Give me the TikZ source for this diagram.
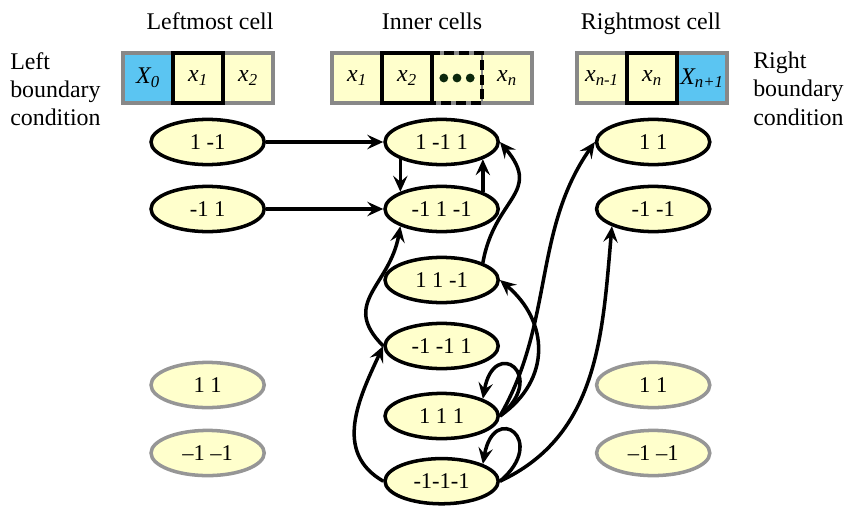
\documentclass[tikz,border=0pt]{standalone}
\usepackage{fontspec}
\setmainfont{Liberation Serif}
\usetikzlibrary{arrows.meta, positioning, shapes.geometric}

\definecolor{cellyellow}{RGB}{255,255,204}
\definecolor{cellblue}{RGB}{91,197,242}
\definecolor{cellgray}{RGB}{136,136,136}
\definecolor{ellgray}{RGB}{150,150,150}
\definecolor{dotgreen}{RGB}{12,40,12}

\begin{document}
\begin{tikzpicture}
    \tikzstyle{labeltext}=[font=\fontsize{17}{20}\selectfont, inner sep=0pt]
    \tikzstyle{cellbox}=[draw=cellgray, line width=1.5pt, fill=cellyellow, minimum width=1.25cm, minimum height=1.25cm, outer sep=0pt, inner sep=0pt, rectangle, font=\fontsize{17}{20}\selectfont\itshape]
    \tikzstyle{bluebox}=[cellbox, fill=cellblue]
    \tikzstyle{statebox}=[draw, ellipse, line width=2.5pt, fill=cellyellow, minimum width=2.83cm, minimum height=1.13cm, inner sep=0pt, font=\fontsize{16}{19}\selectfont]
    \tikzstyle{greystatebox}=[statebox, draw=ellgray]
    \tikzstyle{conn}=[-{Stealth[length=0.4cm, width=0.36cm, inset=0.15cm]}, line width=2.5pt]

    \useasboundingbox (0,0) rectangle (21.2,-12.65);

    % Titles and boundary conditions
    \node[labeltext, anchor=base] (t_left) at (5.25,-0.75) {Leftmost cell};
    \node[labeltext, anchor=base] (t_inner) at (10.8,-0.75) {Inner cells};
    \node[labeltext, anchor=base] (t_right) at (16.275,-0.75) {Rightmost cell};
    \node[labeltext, anchor=north west, align=left] (t_lbc) at (0.25,-1.3) {Left\\boundary\\condition};
    \node[labeltext, anchor=north west, align=left] (t_rbc) at (18.825,-1.3) {Right\\boundary\\condition};

    % Leftmost cell
    \node[bluebox] (l_cell1) at (3.7,-1.95) {X\textsubscript{0}};
    \node[cellbox, right=0cm of l_cell1] (l_cell2) {x\textsubscript{1}};
    \node[cellbox, right=0cm of l_cell2] (l_cell3) {x\textsubscript{2}};
    \draw[cellgray, line width=2.5pt] (l_cell1.north west) rectangle (l_cell3.south east);
    \draw[line width=2.5pt] (l_cell2.north west) rectangle (l_cell2.south east);

    % Inner cells
    \node[cellbox] (i_cell1) at (8.925,-1.95) {x\textsubscript{1}};
    \node[cellbox, right=0cm of i_cell1] (i_cell2) {x\textsubscript{2}};
    \node[cellbox, right=0cm of i_cell2] (i_cell3) {};
    \node[cellbox, right=0cm of i_cell3] (i_cell4) {x\textsubscript{n}};
    \draw[cellgray, line width=2.5pt] (i_cell1.north west) rectangle (i_cell4.south east);
    \draw[line width=2.5pt, dash pattern=on 0.25cm off 0.12cm] (i_cell3.north west) rectangle (i_cell3.south east);
    \draw[line width=2.5pt] (i_cell2.north west) rectangle (i_cell2.south east);
    \foreach \dx in {-0.33, 0, 0.33}
        \fill[dotgreen] ([xshift=\dx cm]i_cell3.center) circle (0.11);

    % Rightmost cell
    \node[cellbox] (r_cell1) at (15.05,-1.95) {x\textsubscript{n-1}};
    \node[cellbox, right=0cm of r_cell1] (r_cell2) {x\textsubscript{n}};
    \node[bluebox, right=0cm of r_cell2] (r_cell3) {X\textsubscript{n+1}};
    \draw[cellgray, line width=2.5pt] (r_cell1.north west) rectangle (r_cell3.south east);
    \draw[line width=2.5pt] (r_cell2.north west) rectangle (r_cell2.south east);

    % Leftmost states
    \node[statebox] (l_state1) at (5.19,-3.55) {1 -1};
    \node[statebox] (l_state2) at (5.19,-5.225) {-1 1};
    \node[greystatebox] (l_state3) at (5.19,-9.625) {1 1};
    \node[greystatebox] (l_state4) at (5.19,-11.325) {–1 –1};

    % Inner states
    \node[statebox] (m_state1) at (11.04,-3.55) {1 -1 1};
    \node[statebox] (m_state2) at (11.04,-5.225) {-1 1 -1};
    \node[statebox] (m_state3) at (11.04,-7.0) {1 1 -1};
    \node[statebox] (m_state4) at (11.04,-8.65) {-1 -1 1};
    \node[statebox] (m_state5) at (11.04,-10.4) {1 1 1};
    \node[statebox] (m_state6) at (11.04,-12.03) {-1-1-1};

    % Rightmost states
    \node[statebox] (r_state1) at (16.33,-3.55) {1 1};
    \node[statebox] (r_state2) at (16.33,-5.225) {-1 -1};
    \node[greystatebox] (r_state3) at (16.33,-9.625) {1 1};
    \node[greystatebox] (r_state4) at (16.33,-11.325) {–1 –1};

    % Transitions
    \draw[conn] (l_state1.east) -- (m_state1.west);
    \draw[conn] (l_state2.east) -- (m_state2.west);
    \draw[conn] (m_state1.south west) -- (m_state2.north west);
    \draw[conn] (m_state2.north east) -- (m_state1.south east);
    \draw[conn] (m_state3.north east) to[out=80, in=-50, looseness=1.4] (m_state1.east);
    \draw[conn] (m_state4.west) to[out=135, in=-100, looseness=1.3] (m_state2.south west);
    \draw[conn] (m_state6.west) to[out=150, in=-115, looseness=1.1] (m_state4.west);
    \draw[conn] (m_state5.east) to[out=35, in=-40, looseness=1.2] (m_state3.east);
    \draw[conn] (m_state5.east) .. controls +(40:1.6) and +(80:1.6) .. (m_state5.north east);
    \draw[conn] (m_state5.east) to[out=60, in=-125, looseness=0.95] (r_state1.west);
    \draw[conn] (m_state6.east) .. controls +(40:1.6) and +(80:1.6) .. (m_state6.north east);
    \draw[conn] (m_state6.east) to[out=25, in=-95] (r_state2.south west);
\end{tikzpicture}
\end{document}
